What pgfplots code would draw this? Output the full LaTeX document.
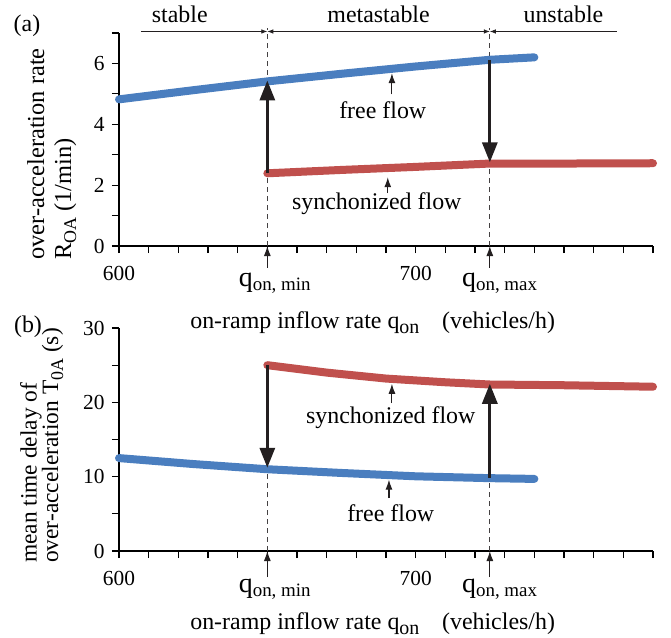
\documentclass[border=0pt]{standalone}
\usepackage{fontspec}
\setmainfont{Liberation Serif}
\usepackage{pgfplots}
\pgfplotsset{compat=1.18}
\usetikzlibrary{arrows.meta}

\definecolor{cblue}{HTML}{4A7EBF}
\definecolor{cred}{HTML}{C0504D}
\definecolor{adark}{HTML}{231F20}

\newcommand{\subs}[3]{\raisebox{#1}{\fontsize{#2}{#2}\selectfont #3}}
\newcommand{\qfont}{\fontsize{28}{30}\selectfont}
\newcommand{\txtfont}{\fontsize{24}{27}\selectfont}

\pgfplotsset{
  myax/.style={
    scale only axis, width=534bp,
    xmin=600, xmax=780, ymin=0,
    axis lines=left,
    axis line style={-, line width=1.1bp, black},
    tick align=outside,
    major tick length=7bp, minor tick length=7bp,
    tick style={line width=1.1bp, black},
    xtick={600,700}, minor xtick={610,620,...,780},
    tick label style={font=\fontsize{21.5}{24}\selectfont},
    /pgf/number format/assume math mode=true,
    xticklabel style={yshift=-10bp},
    yticklabel style={xshift=-4bp},
    clip=false,
  },
}
\tikzset{
  curve/.style={line width=8bp, line cap=round, line join=round},
  dashln/.style={adark!85, line width=0.8bp, dash pattern=on 5bp off 4bp},
  bigarrow/.style={adark, line width=3.2bp, -{Triangle[length=20bp,width=15bp]}},
  smallarrow/.style={adark, line width=1.1bp, -{Latex[length=10bp,width=7bp]}},
  rangearrow/.style={adark, line width=0.7bp},
}

\begin{document}
\begin{tikzpicture}
\path[use as bounding box] (0,0) rectangle (671bp,-638bp);

% ---------------- panel (a) ----------------
\begin{axis}[myax, height=213bp, ymax=7,
  at={(119bp,-246bp)}, anchor=south west,
  ytick={0,2,4,6}, minor ytick={1,3,5,7}]
\draw[dashln] (axis cs:650,0) -- (axis cs:650,7.15);
\draw[dashln] (axis cs:725,0) -- (axis cs:725,7.15);
\addplot[curve, cblue] coordinates {(600,4.82) (625,5.12) (650,5.41) (675,5.66) (700,5.90) (725,6.12) (740,6.20)};
\addplot[curve, cred] coordinates {(650,2.39) (675,2.50) (700,2.60) (725,2.71) (750,2.71) (780,2.72)};
\draw[bigarrow] (axis cs:650,2.39) -- (axis cs:650,5.44);
\draw[bigarrow] (axis cs:725,6.12) -- (axis cs:725,2.75);
\draw[smallarrow] (axis cs:692,4.98) -- (axis cs:692,5.68);
\draw[smallarrow] (axis cs:690.6,1.74) -- (axis cs:690.6,2.26);
\draw[smallarrow] (axis cs:650,-0.72) -- (axis cs:650,0);
\draw[smallarrow] (axis cs:725,-0.72) -- (axis cs:725,0);
\draw[rangearrow, -{Latex[length=6bp,width=4.5bp]}] (axis cs:607.4,7.05) -- (axis cs:650,7.05);
\draw[rangearrow, {Latex[length=6bp,width=4.5bp]}-{Latex[length=6bp,width=4.5bp]}] (axis cs:650,7.05) -- (axis cs:725,7.05);
\draw[rangearrow, {Latex[length=6bp,width=4.5bp]}-] (axis cs:725,7.05) -- (axis cs:767.7,7.05);
\node[font=\txtfont] at (axis cs:620.5,7.6) {stable};
\node[font=\txtfont] at (axis cs:687.5,7.6) {metastable};
\node[font=\txtfont] at (axis cs:749.8,7.6) {unstable};
\node[font=\txtfont] at (axis cs:688.9,4.46) {free flow};
\node[font=\txtfont] at (axis cs:686.9,1.38) {synchonized flow};
\node[font=\qfont, anchor=base] at (axis cs:652.5,-1.344) {q\subs{-4bp}{19}{on, min}};
\node[font=\qfont, anchor=base] at (axis cs:728.3,-1.344) {q\subs{-4bp}{19}{on, max}};
\node[font=\txtfont, anchor=base] at (axis cs:685.5,-2.72) {on-ramp inflow rate q\subs{-5bp}{20}{on}\hspace{0.7em} (vehicles/h)};
\end{axis}

% ---------------- panel (b) ----------------
\begin{axis}[myax, height=223bp, ymax=30,
  at={(119bp,-551bp)}, anchor=south west,
  ytick={0,10,20,30}, minor ytick={5,15,25}]
\draw[dashln] (axis cs:650,0) -- (axis cs:650,11.0);
\draw[dashln] (axis cs:725,0) -- (axis cs:725,9.8);
\addplot[curve, cred] coordinates {(650,25.0) (670,24.0) (690,23.2) (710,22.7) (725,22.4) (750,22.3) (780,22.1)};
\addplot[curve, cblue] coordinates {(600,12.5) (625,11.7) (650,11.0) (675,10.5) (700,10.05) (725,9.8) (740,9.7)};
\draw[bigarrow] (axis cs:650,25.0) -- (axis cs:650,11.2);
\draw[bigarrow] (axis cs:725,9.8) -- (axis cs:725,22.5);
\draw[smallarrow] (axis cs:692,19.9) -- (axis cs:692,22.5);
\draw[smallarrow] (axis cs:691,7.1) -- (axis cs:691,9.6);
\draw[smallarrow] (axis cs:650,-3.5) -- (axis cs:650,0);
\draw[smallarrow] (axis cs:725,-3.5) -- (axis cs:725,0);
\node[font=\txtfont] at (axis cs:691.6,18.0) {synchonized flow};
\node[font=\txtfont] at (axis cs:691.6,5.1) {free flow};
\node[font=\qfont, anchor=base] at (axis cs:652.5,-5.52) {q\subs{-4bp}{19}{on, min}};
\node[font=\qfont, anchor=base] at (axis cs:728.3,-5.52) {q\subs{-4bp}{19}{on, max}};
\node[font=\txtfont, anchor=base] at (axis cs:685.5,-10.55) {on-ramp inflow rate q\subs{-5bp}{20}{on}\hspace{0.7em} (vehicles/h)};
\end{axis}

% panel labels and y labels
\node[font=\txtfont] at (27bp,-26bp) {(a)};
\node[font=\txtfont] at (28bp,-327bp) {(b)};
\node[rotate=90, anchor=north west, align=left, inner sep=0pt, font=\fontsize{24.5}{27}\selectfont]
  at (27bp,-260bp) {over-acceleration rate\\R\subs{-5bp}{18}{OA} (1/min)};
\node[rotate=90, anchor=north west, align=left, inner sep=0pt, font=\fontsize{23.5}{21.5}\selectfont]
  at (20bp,-563bp) {mean time delay of\\over-acceleration T\subs{-5bp}{18}{0A} (s)};
\end{tikzpicture}
\end{document}
